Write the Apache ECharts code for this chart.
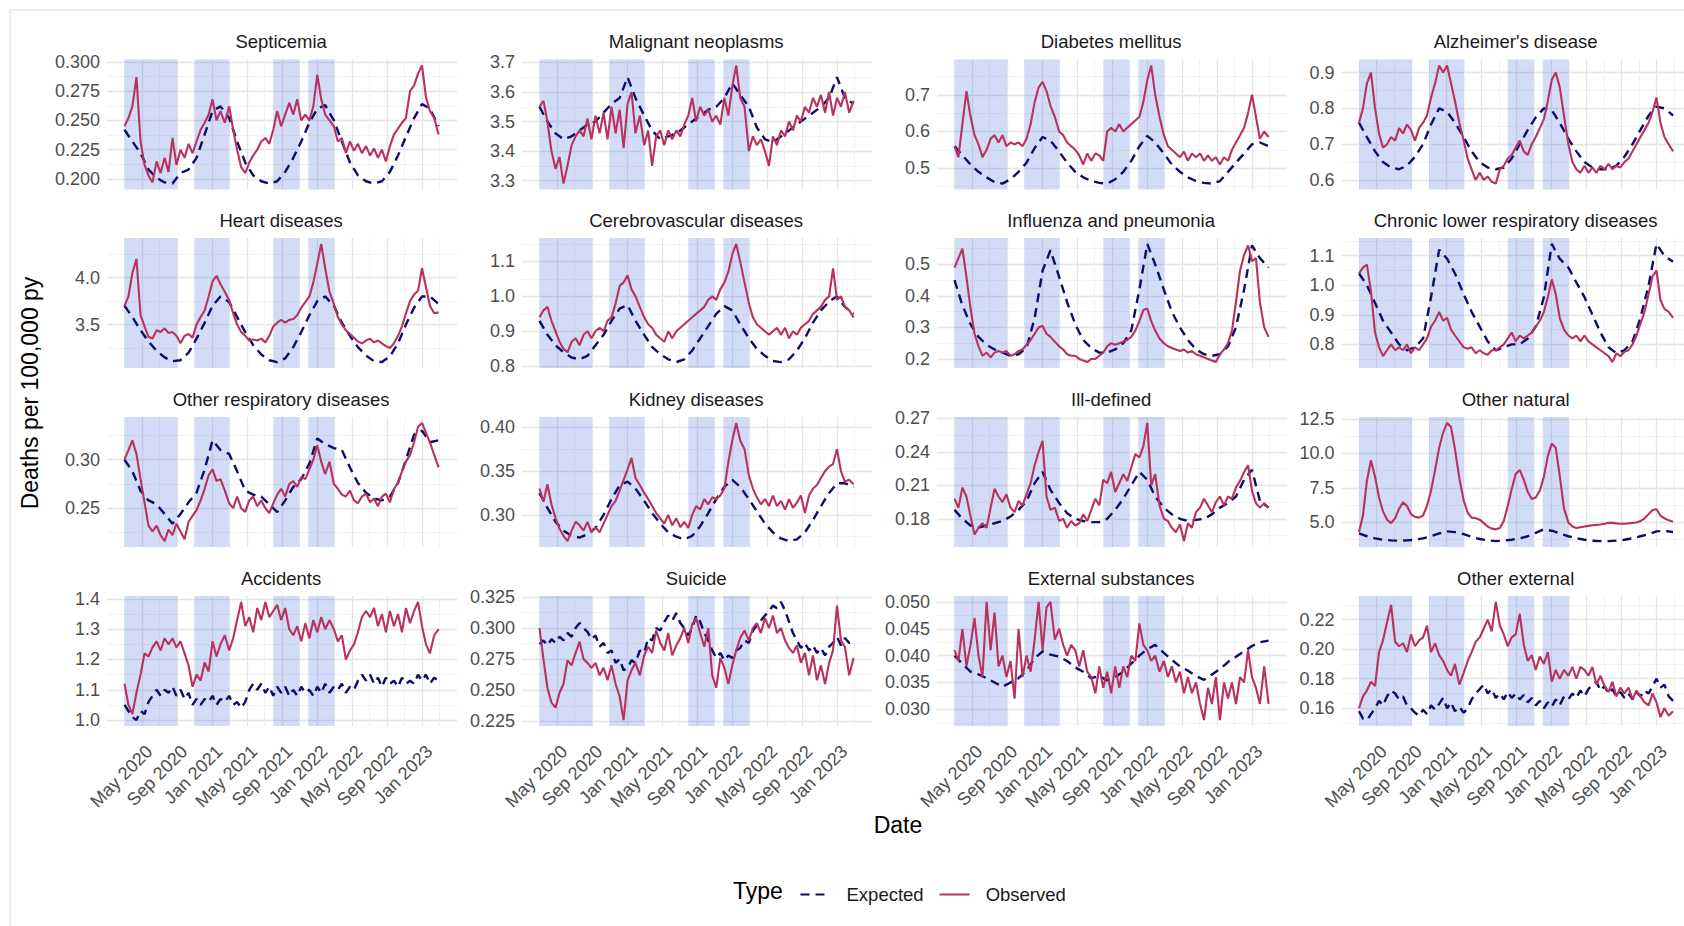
<!DOCTYPE html>
<html>
<head>
<meta charset="utf-8">
<script src="https://cdn.jsdelivr.net/npm/echarts@6/dist/echarts.min.js"></script>
<style>
  html, body { margin: 0; padding: 0; background: #ffffff; }
  #chart { width: 1684px; height: 926px; }
</style>
</head>
<body>
<div id="chart"></div>
<script>
// Observed vs expected weekly mortality by cause (deaths per 100,000 person-years),
// one small panel per cause, biweekly observed points and 4-weekly / biweekly expected points.

const firstDate = '2020-03-01';
const spanDays = 1092;                       // last point falls on 2023-02-26
const tickMonths = [4, 8, 12, 16, 20, 24, 28, 32, 36];   // months after Jan 2020
const tickLabels = ['May 2020', 'Sep 2020', 'Jan 2021', 'May 2021', 'Sep 2021',
                    'Jan 2022', 'May 2022', 'Sep 2022', 'Jan 2023'];
const wavePeriods = [
  ['2020-03-01', '2020-09-01'],
  ['2020-11-01', '2021-03-01'],
  ['2021-08-01', '2021-11-01'],
  ['2021-12-01', '2022-03-01']
];

const panelTitles = [
  'Septicemia', 'Malignant neoplasms', 'Diabetes mellitus', "Alzheimer's disease",
  'Heart diseases', 'Cerebrovascular diseases', 'Influenza and pneumonia', 'Chronic lower respiratory diseases',
  'Other respiratory diseases', 'Kidney diseases', 'Ill-defined', 'Other natural',
  'Accidents', 'Suicide', 'External substances', 'Other external'
];
const yTickSteps = [0.025, 0.1, 0.1, 0.1, 0.5, 0.1, 0.1, 0.1, 0.05, 0.05, 0.03, 2.5, 0.1, 0.025, 0.005, 0.02];
const yTickDecimals = [3, 1, 1, 1, 1, 1, 1, 1, 2, 2, 2, 1, 1, 3, 3, 2];

const septicemiaObs = [
  0.245,0.252,0.262,0.287,0.232,0.212,0.203,0.197,0.215,0.205,
  0.218,0.206,0.235,0.212,0.225,0.218,0.230,0.222,0.232,0.242,
  0.248,0.255,0.268,0.250,0.258,0.248,0.262,0.242,0.225,0.210,
  0.205,0.214,0.220,0.225,0.232,0.235,0.230,0.242,0.258,0.245,
  0.255,0.265,0.255,0.268,0.250,0.255,0.250,0.262,0.289,0.268,
  0.255,0.250,0.245,0.232,0.235,0.222,0.232,0.224,0.230,0.222,
  0.228,0.220,0.226,0.218,0.225,0.215,0.228,0.238,0.243,0.248,
  0.252,0.275,0.280,0.290,0.297,0.270,0.258,0.252,0.238];
const septicemiaExp = [
  0.242,0.232,0.222,0.208,0.201,0.197,0.196,0.205,0.208,0.218,
  0.238,0.258,0.262,0.252,0.232,0.214,0.203,0.198,0.196,0.198,
  0.206,0.218,0.232,0.248,0.260,0.263,0.250,0.232,0.214,0.203,
  0.198,0.196,0.198,0.206,0.220,0.236,0.252,0.264,0.260,0.245];

const malignantObs = [
  3.55,3.57,3.50,3.40,3.34,3.38,3.29,3.35,3.42,3.45,
  3.47,3.45,3.51,3.44,3.52,3.46,3.53,3.44,3.55,3.46,
  3.54,3.41,3.56,3.60,3.46,3.52,3.42,3.47,3.35,3.45,
  3.47,3.42,3.47,3.44,3.47,3.45,3.49,3.52,3.58,3.50,
  3.55,3.52,3.54,3.50,3.52,3.49,3.58,3.52,3.62,3.69,
  3.58,3.55,3.40,3.45,3.42,3.44,3.40,3.35,3.45,3.42,
  3.47,3.45,3.50,3.47,3.52,3.50,3.55,3.53,3.58,3.55,
  3.59,3.53,3.60,3.52,3.58,3.55,3.60,3.53,3.57];
const malignantExp = [
  3.55,3.50,3.46,3.44,3.45,3.47,3.49,3.50,3.53,3.56,
  3.58,3.65,3.58,3.52,3.47,3.44,3.45,3.46,3.48,3.50,
  3.52,3.54,3.55,3.58,3.63,3.59,3.55,3.48,3.44,3.43,
  3.45,3.47,3.49,3.51,3.53,3.55,3.58,3.65,3.58,3.56];

const diabetesObs = [
  0.56,0.53,0.62,0.71,0.64,0.59,0.565,0.53,0.55,0.58,
  0.59,0.57,0.59,0.56,0.57,0.565,0.57,0.56,0.58,0.62,
  0.68,0.72,0.735,0.71,0.67,0.64,0.60,0.59,0.57,0.56,
  0.55,0.535,0.51,0.54,0.52,0.54,0.535,0.52,0.60,0.61,
  0.60,0.62,0.60,0.61,0.62,0.63,0.64,0.68,0.74,0.78,
  0.70,0.64,0.59,0.56,0.55,0.54,0.53,0.545,0.52,0.54,
  0.53,0.54,0.52,0.535,0.52,0.53,0.51,0.53,0.52,0.55,
  0.57,0.59,0.61,0.65,0.70,0.64,0.58,0.60,0.585];
const diabetesExp = [
  0.56,0.535,0.51,0.49,0.475,0.462,0.458,0.47,0.49,0.515,
  0.555,0.585,0.575,0.545,0.515,0.49,0.475,0.465,0.46,0.458,
  0.47,0.49,0.52,0.56,0.588,0.57,0.54,0.51,0.49,0.475,
  0.465,0.46,0.458,0.465,0.49,0.515,0.54,0.565,0.57,0.56];

const alzheimerObs = [
  0.76,0.80,0.87,0.90,0.80,0.73,0.69,0.70,0.72,0.71,
  0.745,0.73,0.755,0.74,0.71,0.745,0.76,0.78,0.83,0.87,
  0.92,0.90,0.92,0.87,0.82,0.76,0.71,0.66,0.63,0.60,
  0.62,0.60,0.61,0.595,0.59,0.63,0.64,0.66,0.67,0.69,
  0.71,0.68,0.67,0.70,0.72,0.745,0.77,0.82,0.88,0.90,
  0.86,0.78,0.70,0.65,0.63,0.62,0.64,0.62,0.635,0.62,
  0.64,0.63,0.645,0.63,0.64,0.635,0.65,0.66,0.68,0.70,
  0.72,0.74,0.76,0.79,0.83,0.76,0.72,0.70,0.68];
const alzheimerExp = [
  0.76,0.72,0.68,0.65,0.635,0.63,0.64,0.665,0.70,0.755,
  0.80,0.79,0.76,0.72,0.68,0.65,0.635,0.63,0.635,0.66,
  0.70,0.74,0.775,0.80,0.795,0.76,0.715,0.68,0.65,0.635,
  0.63,0.63,0.64,0.665,0.70,0.74,0.78,0.805,0.80,0.78];

const heartObs = [
  3.70,3.80,4.05,4.20,3.60,3.48,3.37,3.35,3.44,3.42,
  3.46,3.41,3.42,3.38,3.30,3.38,3.40,3.36,3.50,3.58,
  3.65,3.80,3.96,4.02,3.93,3.85,3.76,3.62,3.50,3.42,
  3.38,3.33,3.34,3.33,3.35,3.31,3.38,3.48,3.52,3.55,
  3.52,3.55,3.56,3.60,3.68,3.74,3.80,3.95,4.15,4.36,
  4.10,3.85,3.72,3.58,3.50,3.44,3.40,3.36,3.32,3.30,
  3.33,3.35,3.31,3.33,3.30,3.27,3.25,3.30,3.38,3.48,
  3.62,3.75,3.82,3.86,4.10,3.90,3.70,3.62,3.63];
const heartExp = [
  3.70,3.58,3.44,3.32,3.22,3.15,3.11,3.12,3.20,3.35,
  3.52,3.70,3.80,3.74,3.58,3.42,3.28,3.18,3.12,3.10,
  3.14,3.26,3.42,3.60,3.75,3.80,3.70,3.52,3.38,3.26,
  3.17,3.11,3.10,3.16,3.30,3.50,3.68,3.80,3.80,3.72];

const cerebroObs = [
  0.94,0.96,0.97,0.93,0.90,0.87,0.85,0.84,0.87,0.88,
  0.86,0.89,0.90,0.88,0.90,0.91,0.90,0.93,0.94,0.98,
  1.03,1.04,1.06,1.02,1.00,0.97,0.94,0.92,0.91,0.89,
  0.88,0.87,0.90,0.88,0.90,0.91,0.92,0.93,0.94,0.95,
  0.96,0.97,0.99,1.00,0.99,1.02,1.04,1.07,1.12,1.15,
  1.10,1.04,0.98,0.94,0.92,0.91,0.90,0.89,0.90,0.91,
  0.89,0.91,0.88,0.90,0.89,0.91,0.92,0.93,0.95,0.96,
  0.97,0.99,1.00,1.08,0.99,1.00,0.97,0.96,0.94];
const cerebroExp = [
  0.93,0.89,0.86,0.84,0.825,0.82,0.83,0.86,0.89,0.93,
  0.965,0.975,0.93,0.89,0.855,0.835,0.82,0.812,0.82,0.845,
  0.88,0.915,0.95,0.972,0.96,0.92,0.88,0.85,0.83,0.815,
  0.812,0.82,0.845,0.88,0.925,0.96,0.985,1.00,0.97,0.95];

const influenzaObs = [
  0.49,0.52,0.55,0.46,0.36,0.28,0.24,0.21,0.22,0.205,
  0.22,0.225,0.22,0.225,0.21,0.215,0.225,0.23,0.245,0.26,
  0.28,0.30,0.305,0.28,0.27,0.255,0.24,0.23,0.215,0.21,
  0.21,0.20,0.195,0.19,0.20,0.20,0.21,0.22,0.24,0.25,
  0.245,0.25,0.255,0.26,0.27,0.29,0.32,0.355,0.36,0.32,
  0.29,0.265,0.25,0.24,0.235,0.23,0.225,0.23,0.22,0.225,
  0.215,0.21,0.205,0.20,0.195,0.19,0.215,0.23,0.25,0.29,
  0.38,0.48,0.53,0.56,0.51,0.52,0.38,0.30,0.27];
const influenzaExp = [
  0.45,0.37,0.31,0.27,0.245,0.23,0.22,0.21,0.215,0.235,
  0.33,0.48,0.545,0.46,0.38,0.31,0.26,0.235,0.22,0.22,
  0.23,0.25,0.29,0.42,0.565,0.50,0.42,0.35,0.30,0.26,
  0.23,0.215,0.21,0.215,0.24,0.30,0.42,0.56,0.52,0.49];

const chronicObs = [
  1.04,1.06,1.07,0.98,0.84,0.79,0.76,0.78,0.80,0.78,
  0.79,0.78,0.80,0.77,0.79,0.78,0.80,0.82,0.86,0.88,
  0.91,0.88,0.89,0.85,0.83,0.81,0.79,0.785,0.79,0.77,
  0.78,0.77,0.765,0.78,0.78,0.79,0.80,0.82,0.84,0.81,
  0.83,0.82,0.83,0.84,0.86,0.88,0.91,0.96,1.02,0.97,
  0.89,0.85,0.83,0.82,0.83,0.81,0.83,0.81,0.80,0.79,
  0.78,0.77,0.76,0.74,0.77,0.76,0.775,0.78,0.80,0.83,
  0.87,0.91,0.97,1.03,1.05,0.95,0.92,0.91,0.89];
const chronicExp = [
  1.04,1.00,0.94,0.88,0.84,0.80,0.78,0.79,0.82,0.96,
  1.12,1.09,1.04,0.97,0.91,0.86,0.81,0.78,0.79,0.80,
  0.80,0.82,0.86,0.96,1.14,1.09,1.06,1.01,0.96,0.90,
  0.84,0.79,0.77,0.78,0.81,0.89,1.00,1.14,1.10,1.08];

const otherRespObs = [
  0.300,0.310,0.320,0.306,0.280,0.256,0.232,0.226,0.232,0.222,
  0.216,0.228,0.222,0.234,0.226,0.218,0.236,0.242,0.248,0.258,
  0.270,0.284,0.290,0.278,0.280,0.268,0.255,0.250,0.262,0.250,
  0.246,0.258,0.262,0.252,0.258,0.250,0.245,0.255,0.264,0.270,
  0.262,0.275,0.278,0.272,0.282,0.280,0.290,0.300,0.315,0.298,
  0.285,0.298,0.275,0.270,0.264,0.262,0.268,0.258,0.255,0.262,
  0.265,0.256,0.260,0.252,0.262,0.265,0.256,0.270,0.276,0.288,
  0.298,0.305,0.318,0.334,0.338,0.328,0.318,0.305,0.292];
const otherRespExp = [
  0.300,0.288,0.268,0.258,0.254,0.244,0.234,0.244,0.256,0.266,
  0.290,0.320,0.310,0.306,0.288,0.268,0.264,0.262,0.254,0.246,
  0.258,0.272,0.280,0.296,0.322,0.316,0.312,0.310,0.292,0.276,
  0.266,0.260,0.258,0.262,0.276,0.300,0.326,0.330,0.318,0.320];

const kidneyObs = [
  0.330,0.315,0.335,0.312,0.296,0.284,0.276,0.270,0.282,0.292,
  0.288,0.282,0.292,0.280,0.286,0.280,0.290,0.300,0.310,0.316,
  0.328,0.340,0.352,0.365,0.342,0.334,0.325,0.318,0.310,0.302,
  0.296,0.290,0.300,0.288,0.296,0.286,0.292,0.285,0.300,0.310,
  0.306,0.318,0.312,0.320,0.318,0.322,0.330,0.360,0.385,0.405,
  0.385,0.375,0.345,0.330,0.320,0.312,0.318,0.310,0.322,0.310,
  0.316,0.306,0.318,0.308,0.314,0.322,0.302,0.322,0.330,0.334,
  0.342,0.350,0.355,0.358,0.375,0.350,0.338,0.340,0.335];
const kidneyExp = [
  0.325,0.308,0.292,0.282,0.276,0.274,0.278,0.285,0.300,0.318,
  0.334,0.338,0.330,0.316,0.302,0.290,0.280,0.275,0.272,0.276,
  0.287,0.302,0.318,0.332,0.340,0.332,0.318,0.304,0.290,0.280,
  0.273,0.270,0.272,0.280,0.294,0.310,0.325,0.336,0.336,0.332];

const illDefinedObs = [
  0.198,0.190,0.208,0.200,0.182,0.166,0.172,0.176,0.172,0.190,
  0.207,0.200,0.195,0.202,0.190,0.186,0.196,0.192,0.202,0.212,
  0.228,0.240,0.250,0.200,0.188,0.190,0.178,0.180,0.172,0.178,
  0.174,0.176,0.184,0.178,0.188,0.198,0.192,0.215,0.212,0.222,
  0.204,0.212,0.220,0.214,0.226,0.238,0.235,0.245,0.266,0.210,
  0.220,0.192,0.180,0.178,0.172,0.168,0.175,0.160,0.176,0.172,
  0.186,0.190,0.198,0.192,0.186,0.195,0.200,0.192,0.200,0.198,
  0.208,0.214,0.222,0.228,0.205,0.194,0.190,0.194,0.190];
const illDefinedExp = [
  0.188,0.180,0.174,0.172,0.174,0.176,0.178,0.182,0.188,0.196,
  0.212,0.222,0.206,0.194,0.185,0.180,0.178,0.177,0.177,0.180,
  0.188,0.198,0.210,0.222,0.215,0.200,0.190,0.184,0.180,0.178,
  0.179,0.180,0.184,0.190,0.194,0.200,0.215,0.224,0.196,0.190];

const otherNaturalObs = [
  4.3,5.5,8.0,9.5,8.3,6.8,5.8,5.2,4.95,5.3,
  6.0,6.45,6.2,5.6,5.4,5.35,5.5,6.2,7.3,8.8,
  10.4,11.5,12.2,11.9,10.3,8.2,6.6,5.7,5.35,5.3,
  5.2,4.95,4.7,4.55,4.5,4.6,5.1,6.2,7.4,8.5,
  8.8,8.1,7.2,6.7,6.8,7.3,8.3,9.8,10.7,10.4,
  8.4,6.0,5.0,4.7,4.6,4.65,4.7,4.75,4.8,4.82,
  4.85,4.9,4.98,4.97,4.93,4.9,4.9,4.93,4.97,5.0,
  5.1,5.3,5.6,5.9,5.95,5.5,5.3,5.15,5.05];
const otherNaturalExp = [
  4.2,4.0,3.85,3.75,3.7,3.68,3.7,3.75,3.85,4.0,
  4.2,4.35,4.3,4.15,3.95,3.8,3.7,3.65,3.68,3.75,
  3.85,4.0,4.25,4.5,4.4,4.2,4.0,3.85,3.75,3.68,
  3.65,3.65,3.68,3.75,3.85,4.0,4.15,4.35,4.4,4.3];

const accidentsObs = [
  1.12,1.05,1.02,1.09,1.15,1.22,1.21,1.24,1.26,1.23,
  1.27,1.25,1.27,1.24,1.26,1.22,1.18,1.11,1.15,1.13,
  1.19,1.16,1.26,1.21,1.25,1.28,1.23,1.27,1.33,1.39,
  1.31,1.34,1.29,1.37,1.33,1.39,1.34,1.36,1.38,1.33,
  1.37,1.30,1.28,1.31,1.26,1.32,1.27,1.33,1.29,1.34,
  1.30,1.33,1.30,1.26,1.28,1.20,1.23,1.25,1.29,1.34,
  1.36,1.34,1.37,1.31,1.35,1.29,1.36,1.31,1.35,1.29,
  1.37,1.32,1.36,1.39,1.31,1.25,1.22,1.28,1.30];
const accidentsExp = [
  1.05,1.03,1.01,1.00,1.03,1.02,1.06,1.08,1.10,1.08,
  1.10,1.09,1.11,1.08,1.10,1.07,1.09,1.05,1.07,1.05,
  1.07,1.06,1.08,1.05,1.07,1.06,1.08,1.05,1.06,1.04,
  1.06,1.10,1.12,1.10,1.12,1.09,1.11,1.08,1.11,1.09,
  1.11,1.08,1.10,1.08,1.11,1.09,1.10,1.08,1.11,1.09,
  1.12,1.09,1.11,1.10,1.12,1.09,1.11,1.10,1.13,1.15,
  1.13,1.15,1.12,1.14,1.11,1.14,1.12,1.13,1.11,1.14,
  1.12,1.13,1.12,1.15,1.13,1.15,1.12,1.14,1.13];

const suicideObs = [
  0.300,0.275,0.252,0.240,0.236,0.248,0.255,0.274,0.270,0.280,
  0.289,0.275,0.272,0.268,0.272,0.262,0.268,0.258,0.270,0.255,
  0.245,0.226,0.258,0.266,0.272,0.262,0.278,0.285,0.280,0.298,
  0.288,0.282,0.296,0.278,0.286,0.292,0.300,0.288,0.303,0.308,
  0.296,0.285,0.300,0.262,0.252,0.276,0.268,0.255,0.270,0.282,
  0.292,0.298,0.290,0.300,0.304,0.296,0.308,0.300,0.310,0.296,
  0.300,0.290,0.284,0.280,0.286,0.272,0.280,0.262,0.278,0.258,
  0.270,0.255,0.272,0.282,0.318,0.290,0.285,0.262,0.276];
const suicideExp = [
  0.287,0.290,0.286,0.291,0.288,0.293,0.290,0.296,0.293,0.300,
  0.304,0.300,0.297,0.291,0.294,0.285,0.288,0.280,0.282,0.272,
  0.275,0.266,0.268,0.274,0.272,0.282,0.280,0.292,0.290,0.300,
  0.298,0.305,0.310,0.306,0.312,0.304,0.300,0.294,0.300,0.310,
  0.305,0.296,0.290,0.282,0.276,0.280,0.274,0.278,0.276,0.282,
  0.284,0.290,0.288,0.298,0.302,0.306,0.310,0.314,0.318,0.316,
  0.321,0.314,0.305,0.296,0.290,0.284,0.288,0.282,0.286,0.280,
  0.284,0.278,0.285,0.288,0.293,0.286,0.292,0.288,0.290];

const externalSubstObs = [
  0.041,0.039,0.045,0.038,0.042,0.047,0.040,0.036,0.050,0.041,
  0.048,0.038,0.040,0.036,0.039,0.032,0.045,0.036,0.040,0.037,
  0.043,0.050,0.041,0.049,0.050,0.043,0.045,0.042,0.040,0.042,
  0.041,0.038,0.041,0.037,0.036,0.033,0.038,0.034,0.037,0.033,
  0.038,0.034,0.038,0.036,0.040,0.039,0.046,0.042,0.041,0.039,
  0.040,0.037,0.039,0.036,0.038,0.035,0.037,0.033,0.036,0.033,
  0.035,0.031,0.028,0.034,0.031,0.036,0.028,0.035,0.032,0.035,
  0.031,0.036,0.035,0.041,0.036,0.034,0.031,0.038,0.031];
const externalSubstExp = [
  0.0400,0.0385,0.0370,0.0365,0.0358,0.0350,0.0342,0.0350,0.0358,0.0372,
  0.0395,0.0408,0.0402,0.0398,0.0390,0.0378,0.0370,0.0358,0.0362,0.0354,
  0.0360,0.0370,0.0385,0.0400,0.0412,0.0420,0.0405,0.0392,0.0380,0.0372,
  0.0362,0.0355,0.0365,0.0375,0.0388,0.0398,0.0408,0.0418,0.0425,0.0428];

const otherExternalObs = [
  0.160,0.168,0.172,0.178,0.175,0.198,0.206,0.218,0.230,0.205,
  0.202,0.204,0.198,0.210,0.202,0.206,0.208,0.216,0.198,0.204,
  0.196,0.192,0.186,0.182,0.190,0.176,0.184,0.192,0.198,0.205,
  0.208,0.214,0.220,0.212,0.232,0.216,0.210,0.202,0.208,0.210,
  0.224,0.203,0.192,0.196,0.186,0.195,0.190,0.198,0.178,0.186,
  0.180,0.186,0.182,0.188,0.180,0.188,0.186,0.182,0.188,0.176,
  0.182,0.175,0.171,0.178,0.168,0.174,0.170,0.174,0.166,0.172,
  0.168,0.164,0.162,0.170,0.164,0.154,0.160,0.155,0.158];
const otherExternalExp = [
  0.158,0.153,0.152,0.156,0.160,0.165,0.162,0.168,0.172,0.170,
  0.166,0.168,0.162,0.160,0.157,0.155,0.159,0.156,0.162,0.159,
  0.163,0.167,0.160,0.164,0.158,0.161,0.157,0.160,0.166,0.170,
  0.173,0.176,0.170,0.173,0.167,0.170,0.166,0.171,0.167,0.170,
  0.166,0.169,0.164,0.167,0.162,0.165,0.160,0.164,0.161,0.166,
  0.162,0.168,0.166,0.170,0.167,0.172,0.168,0.173,0.176,0.178,
  0.172,0.175,0.170,0.173,0.168,0.171,0.167,0.170,0.166,0.171,
  0.168,0.172,0.170,0.175,0.180,0.174,0.176,0.168,0.165];

const observedSeries = [septicemiaObs, malignantObs, diabetesObs, alzheimerObs,
  heartObs, cerebroObs, influenzaObs, chronicObs,
  otherRespObs, kidneyObs, illDefinedObs, otherNaturalObs,
  accidentsObs, suicideObs, externalSubstObs, otherExternalObs];
const expectedSeries = [septicemiaExp, malignantExp, diabetesExp, alzheimerExp,
  heartExp, cerebroExp, influenzaExp, chronicExp,
  otherRespExp, kidneyExp, illDefinedExp, otherNaturalExp,
  accidentsExp, suicideExp, externalSubstExp, otherExternalExp];

// ---- styling and layout ----
const FONT = '"Liberation Sans", Arial, Helvetica, sans-serif';
const OBS_COLOR = '#B8325E';
const EXP_COLOR = '#0C0C6A';
const WAVE_COLOR = 'rgba(95,130,225,0.28)';
const MAJOR_GRID = '#E4E4E4';
const MINOR_GRID = '#F0F0F0';
const TICK_COLOR = '#4D4D4D';

const PX_PER_MONTH = 8.75;
// x position of Jan 2020 (month 0) in each column; the last column has narrower tick labels
const COL_LEFT = [107, 522, 937, 1341.5];
const ROW_TOPS = [59.5, 238, 417, 596];
const PANEL_H = 130;
const AXIS_MAX = 40;

const DAY = 86400000;
function parseDay(s) { const p = s.split('-').map(Number); return Date.UTC(p[0], p[1] - 1, p[2]); }
function monthIndex(ms) {
  const d = new Date(ms);
  const y = d.getUTCFullYear(), m = d.getUTCMonth();
  const dim = new Date(Date.UTC(y, m + 1, 0)).getUTCDate();
  return (y - 2020) * 12 + m + (d.getUTCDate() - 1) / dim;
}
const startMs = parseDay(firstDate);
function toPoints(values) {
  const step = spanDays / (values.length - 1);
  return values.map((v, i) => [monthIndex(startMs + Math.round(i * step) * DAY), v]);
}
const waveAreas = wavePeriods.map(([a, b]) => [
  { xAxis: monthIndex(parseDay(a)) }, { xAxis: monthIndex(parseDay(b)) }
]);

const grids = [], xAxes = [], yAxes = [], series = [], graphics = [];

panelTitles.forEach((title, k) => {
  const r = Math.floor(k / 4), c = k % 4;
  const left = COL_LEFT[c];
  const top = ROW_TOPS[r];
  const obs = observedSeries[k], exp = expectedSeries[k];
  const step = yTickSteps[k], dec = yTickDecimals[k];

  grids.push({ left: left, top: top, width: AXIS_MAX * PX_PER_MONTH, height: PANEL_H,
               outerBoundsMode: 'none', containLabel: false });

  xAxes.push({
    gridIndex: k, type: 'value', min: 0, max: AXIS_MAX, interval: 4,
    axisLine: { show: false }, axisTick: { show: false },
    axisLabel: { show: false },
    splitLine: { show: true, showMinLine: false, showMaxLine: false, lineStyle: { color: MAJOR_GRID, width: 1.3 } },
    minorTick: { show: false, splitNumber: 2 },
    minorSplitLine: { show: true, lineStyle: { color: MINOR_GRID, width: 0.9 } }
  });

  const all = obs.concat(exp);
  const lo = Math.min.apply(null, all), hi = Math.max.apply(null, all);
  const pad = (hi - lo) * 0.05;
  yAxes.push({
    gridIndex: k, type: 'value', min: lo - pad, max: hi + pad,
    minInterval: step, maxInterval: step,
    axisLine: { show: false }, axisTick: { show: false },
    axisLabel: {
      margin: 7, color: TICK_COLOR, fontSize: 18, fontFamily: FONT,
      formatter: v => { const q = v / step; return Math.abs(q - Math.round(q)) < 1e-6 ? v.toFixed(dec) : ''; }
    },
    splitLine: { show: true, showMinLine: false, showMaxLine: false, lineStyle: { color: MAJOR_GRID, width: 1.3 } },
    minorTick: { show: false, splitNumber: 2 },
    minorSplitLine: { show: true, lineStyle: { color: MINOR_GRID, width: 0.9 } }
  });

  // shaded epidemic waves
  series.push({
    type: 'line', xAxisIndex: k, yAxisIndex: k, data: [], silent: true, z: 1,
    markArea: { silent: true, itemStyle: { color: WAVE_COLOR }, data: waveAreas }
  });
  series.push({
    type: 'line', name: 'Expected', xAxisIndex: k, yAxisIndex: k, data: toPoints(exp),
    symbol: 'none', showSymbol: false, silent: true, z: 3,
    lineStyle: { color: EXP_COLOR, width: 2.4, type: [9, 6] }, itemStyle: { color: EXP_COLOR }
  });
  series.push({
    type: 'line', name: 'Observed', xAxisIndex: k, yAxisIndex: k, data: toPoints(obs),
    symbol: 'none', showSymbol: false, silent: true, z: 4,
    lineStyle: { color: OBS_COLOR, width: 2.1 }, itemStyle: { color: OBS_COLOR }
  });

  // strip title, centred over the panel
  graphics.push({
    type: 'text', x: left + 19.9 * PX_PER_MONTH, y: top - 18, silent: true,
    style: { text: title, fill: '#1A1A1A', fontSize: 18.5, fontFamily: FONT, align: 'center', verticalAlign: 'middle' }
  });
});

// figure frame, axis titles and legend title
graphics.push(
  { type: 'line', shape: { x1: 10, y1: 10, x2: 1684, y2: 10 }, style: { stroke: '#DADADA', lineWidth: 1 }, silent: true },
  { type: 'line', shape: { x1: 10, y1: 10, x2: 10, y2: 926 }, style: { stroke: '#DADADA', lineWidth: 1 }, silent: true },
  { type: 'text', x: 30, y: 393, rotation: Math.PI / 2, silent: true,
    style: { text: 'Deaths per 100,000 py', fill: '#000', fontSize: 23, fontFamily: FONT, align: 'center', verticalAlign: 'middle' } },
  { type: 'text', x: 898, y: 825, silent: true,
    style: { text: 'Date', fill: '#000', fontSize: 23, fontFamily: FONT, align: 'center', verticalAlign: 'middle' } },
  { type: 'text', x: 733, y: 891, silent: true,
    style: { text: 'Type', fill: '#000', fontSize: 23, fontFamily: FONT, align: 'left', verticalAlign: 'middle' } }
);

const chart = echarts.init(document.getElementById('chart'), null, { renderer: 'svg', width: 1684, height: 926 });
chart.setOption({
  backgroundColor: '#ffffff',
  animation: false,
  grid: grids,
  xAxis: xAxes,
  yAxis: yAxes,
  series: series,
  legend: {
    data: ['Expected', 'Observed'], left: 794.5, top: 880, orient: 'horizontal',
    itemWidth: 30, itemHeight: 14, itemGap: 15, selectedMode: false,
    itemStyle: { opacity: 0 },
    textStyle: { color: '#1A1A1A', fontSize: 18.5, fontFamily: FONT, padding: [0, 0, 0, 11] }
  }
});

// Date tick labels under the bottom row: rotated 45 degrees, top-right corner anchored at the tick
const dateLabels = [];
for (let k = 12; k < 16; k++) {
  const bottom = ROW_TOPS[3] + PANEL_H;
  tickMonths.forEach((m, t) => {
    const px = chart.convertToPixel({ xAxisIndex: k }, m);
    dateLabels.push({
      type: 'text', x: px + 1, y: bottom + 16, rotation: Math.PI / 4, silent: true,
      style: { text: tickLabels[t], fill: TICK_COLOR, fontSize: 18, fontFamily: FONT, align: 'right', verticalAlign: 'top' }
    });
  });
}
chart.setOption({ graphic: graphics.concat(dateLabels) });
</script>
</body>
</html>
